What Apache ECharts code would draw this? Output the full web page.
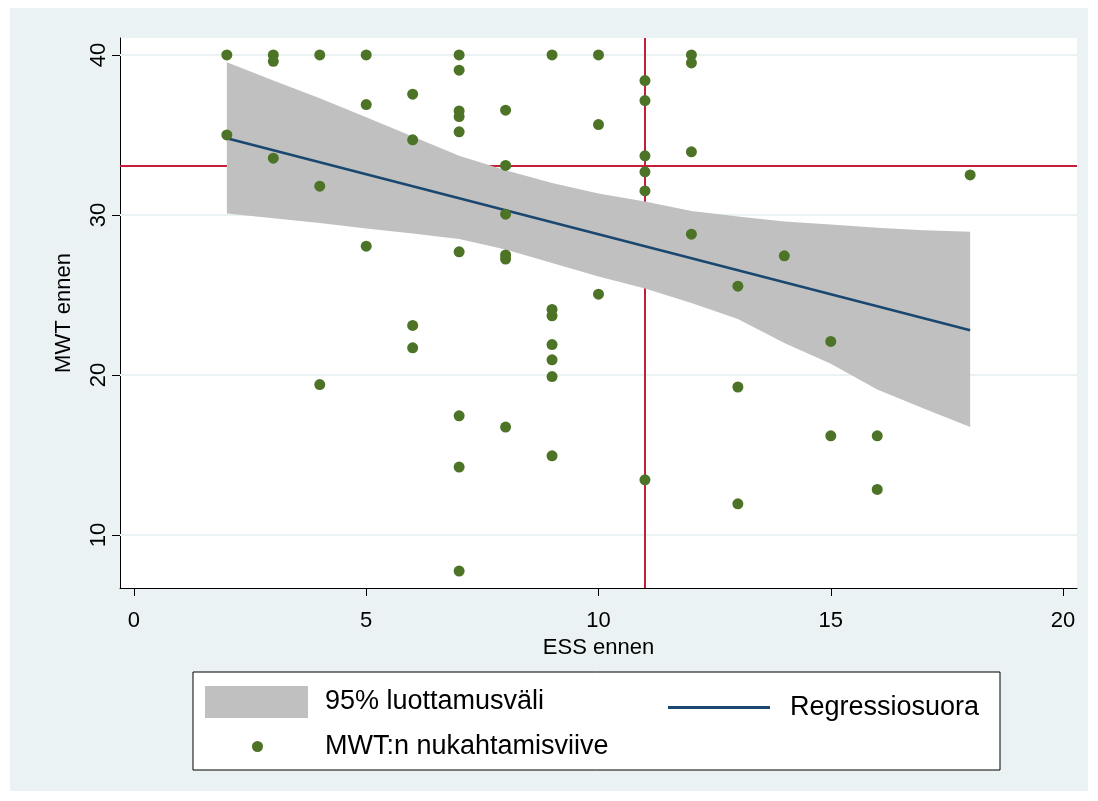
<!DOCTYPE html>
<html>
<head>
<meta charset="utf-8">
<script src="https://cdn.jsdelivr.net/npm/echarts@6/dist/echarts.min.js"></script>
<style>
html,body{margin:0;padding:0;background:#fff;}
#chart{width:1098px;height:801px;}
</style>
</head>
<body>
<div id="chart"></div>
<script>
// ---- data ----
const essValues = [2,2, 3,3,3, 4,4,4, 5,5,5, 6,6,6,6,
  7,7,7,7,7,7,7,7,7, 8,8,8,8,8,8, 9,9,9,9,9,9,9, 10,10,10,
  11,11,11,11,11,11, 12,12,12,12, 13,13,13, 14, 15,15, 16,16, 18];
const mwtValues = [40,35.0, 40,39.6,33.55, 40,31.8,19.4, 40,36.9,28.05, 37.55,34.7,23.1,21.7,
  40,39.05,36.5,36.15,35.2,27.7,17.45,14.25,7.75, 36.55,33.1,30.05,27.5,27.25,16.75,
  40,24.1,23.7,21.9,20.95,19.9,14.95, 40,35.65,25.05,
  38.4,37.15,33.7,32.7,31.5,13.45, 40,39.5,33.95,28.8, 25.55,19.25,11.95, 27.45, 22.1,16.2, 16.2,12.85, 32.5];
const fitX = [2, 18];
const fitY = [34.8, 22.8];
const bandX = [2,3,4,5,6,7,8,9,10,11,12,13,14,15,16,17,18];
const bandUpper = [39.55,38.4,37.3,36.1,34.9,33.7,32.8,32.0,31.35,30.85,30.25,29.9,29.6,29.4,29.2,29.05,28.95];
const bandLower = [30.1,29.8,29.5,29.15,28.85,28.5,27.85,27.0,26.15,25.4,24.5,23.5,22.0,20.7,19.1,17.9,16.75];
const xTicks = [0,5,10,15,20];
const yTicks = [10,20,30,40];
const refX = 11;
const refY = 33.1;
const xTitle = 'ESS ennen';
const yTitle = 'MWT ennen';
const nameBand = '95% luottamusväli';
const nameFit = 'Regressiosuora';
const nameScatter = 'MWT:n nukahtamisviive';

// ---- build ----
const FONT = 'Liberation Sans, Arial, sans-serif';
const AX_FS = 22;
const LG_FS = 27;
const scatterData = essValues.map((x, i) => [x, mwtValues[i]]);
const fitData = fitX.map((x, i) => [x, fitY[i]]);
const bandData = bandX.map((x, i) => [x, bandLower[i], bandUpper[i]]);

const chart = echarts.init(document.getElementById('chart'), null, {renderer: 'canvas'});
const option = {
  backgroundColor: '#ffffff',
  animation: false,
  graphic: [
    {type: 'rect', z: -10, shape: {x: 10, y: 8, width: 1078, height: 783}, style: {fill: '#eaf2f3'}},
    {type: 'rect', z: -5, shape: {x: 193, y: 672, width: 807, height: 98}, style: {fill: '#ffffff', stroke: '#000000', lineWidth: 1}}
  ],
  grid: {left: 120, right: 21, top: 38, bottom: 213, show: true, backgroundColor: '#ffffff', borderWidth: 0},
  xAxis: {
    type: 'value', min: -0.3, max: 20.3,
    name: xTitle, nameLocation: 'middle', nameGap: 49,
    nameTextStyle: {fontFamily: FONT, fontSize: AX_FS, color: '#000'},
    axisLine: {show: true, onZero: false, lineStyle: {color: '#000', width: 1}},
    axisTick: {show: true, length: 8, customValues: xTicks, lineStyle: {color: '#000'}},
    axisLabel: {customValues: xTicks, margin: 22, fontFamily: FONT, fontSize: AX_FS, color: '#000'},
    splitLine: {show: false}
  },
  yAxis: {
    type: 'value', min: 6.69, max: 41.06,
    name: yTitle, nameLocation: 'middle', nameGap: 45,
    nameTextStyle: {fontFamily: FONT, fontSize: AX_FS, color: '#000'},
    axisLine: {show: true, onZero: false, lineStyle: {color: '#000', width: 1}},
    axisTick: {show: true, length: 8, customValues: yTicks, lineStyle: {color: '#000'}},
    axisLabel: {customValues: yTicks, rotate: 90, margin: 10, fontFamily: FONT, fontSize: AX_FS, color: '#000'},
    splitLine: {show: false}
  },
  legend: [
    {data: [{name: nameBand, icon: 'rect', itemStyle: {color: '#c0c0c0'}}], left: 205, top: 686, padding: 0,
     itemWidth: 103, itemHeight: 32, selectedMode: false,
     textStyle: {fontFamily: FONT, fontSize: LG_FS, color: '#000', padding: [14,0,0,12]}},
    {data: [{name: nameFit, icon: 'rect', itemStyle: {color: '#1a476f', borderWidth: 0}}], left: 668, top: 694, padding: 0,
     itemWidth: 102, itemHeight: 3, selectedMode: false,
     textStyle: {fontFamily: FONT, fontSize: LG_FS, color: '#000', padding: [0,0,0,15]}},
    {data: [{name: nameScatter, icon: 'circle'}], left: 252, top: 733, padding: 0,
     itemWidth: 11, itemHeight: 11, selectedMode: false,
     textStyle: {fontFamily: FONT, fontSize: LG_FS, color: '#000', padding: [0,0,0,57]}}
  ],
  series: [
    {
      name: 'gridlines', type: 'line', data: [], z: 1, silent: true,
      markLine: {z: 1, silent: true, symbol: 'none', label: {show: false}, animation: false,
        lineStyle: {color: '#eaf2f3', width: 2, type: 'solid'},
        data: yTicks.map(v => ({yAxis: v}))}
    },
    {
      name: 'reflines', type: 'line', data: [], z: 2, silent: true,
      markLine: {z: 2, silent: true, symbol: 'none', label: {show: false}, animation: false,
        lineStyle: {color: '#c41e3a', width: 2, type: 'solid'},
        data: [{xAxis: refX}, {yAxis: refY}]}
    },
    {
      name: nameBand, type: 'custom', z: 3, silent: true,
      data: bandData, encode: {x: 0, y: [1, 2]},
      itemStyle: {color: '#c0c0c0'},
      renderItem: function (params, api) {
        if (params.dataIndex !== 0) return null;
        const pts = [];
        for (let i = 0; i < bandData.length; i++) pts.push(api.coord([bandData[i][0], bandData[i][2]]));
        for (let i = bandData.length - 1; i >= 0; i--) pts.push(api.coord([bandData[i][0], bandData[i][1]]));
        return {type: 'polygon', shape: {points: pts}, style: {fill: '#c0c0c0'}};
      }
    },
    {
      name: nameFit, type: 'line', z: 4, data: fitData, symbol: 'none', showSymbol: false,
      lineStyle: {color: '#1a476f', width: 2.5}, itemStyle: {color: '#1a476f'}
    },
    {
      name: nameScatter, type: 'scatter', z: 5, data: scatterData, symbol: 'circle', symbolSize: 11,
      itemStyle: {color: '#4d7326', opacity: 1}
    }
  ]
};
chart.setOption(option);
</script>
</body>
</html>
